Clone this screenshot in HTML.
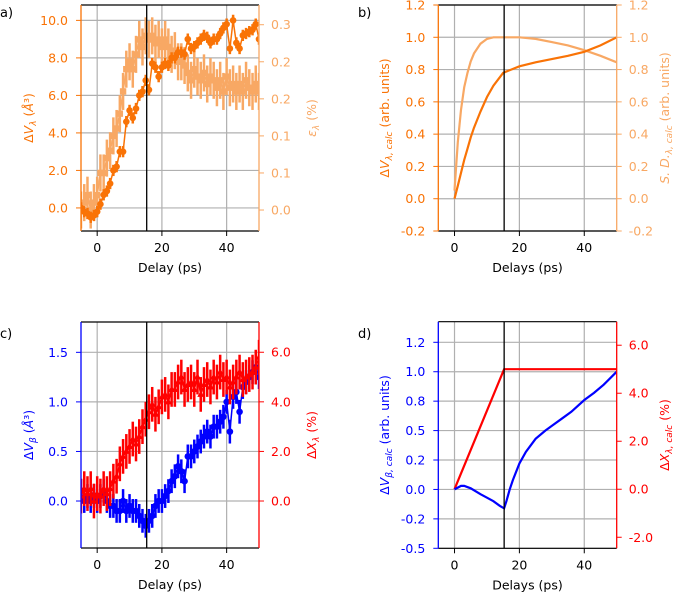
<!DOCTYPE html>
<html><head><meta charset="utf-8">
<style>
html,body{margin:0;padding:0;background:#fff;}
svg{display:block;font-family:"DejaVu Sans","Liberation Sans",sans-serif;}
</style></head>
<body>
<svg id="fig" width="675" height="594" viewBox="0 0 675 594" xmlns="http://www.w3.org/2000/svg"></svg>
<script>
// ---- data ----
const tData = [-5,-4,-3,-2,-1,0,1,2,3,4,5,6,7,8,9,10,11,12,13,14,15,16,17,18,19,20,21,22,23,24,25,26,27,28,29,30,31,32,33,34,35,36,37,38,39,40,41,42,43,44,45,46,47,48,49,50];
const dVLambda = [0.0,-0.2,-0.3,-0.5,-0.4,-0.2,0.2,0.7,0.9,1.3,2.0,2.2,3.0,3.0,4.6,5.2,4.8,5.3,6.0,6.2,6.8,6.3,7.7,7.5,7.0,7.5,7.7,7.6,8.0,8.0,8.3,8.3,8.2,9.0,8.5,8.6,8.8,9.0,9.2,9.1,8.8,9.0,9.0,9.3,9.6,9.8,8.5,10.0,8.8,8.5,9.2,9.3,9.4,9.5,9.8,9.0];
const dVLambdaErr = [0.3,0.3,0.3,0.3,0.3,0.3,0.3,0.3,0.3,0.3,0.3,0.3,0.3,0.3,0.3,0.3,0.3,0.3,0.3,0.3,0.3,0.3,0.3,0.3,0.3,0.3,0.3,0.3,0.3,0.3,0.3,0.3,0.3,0.3,0.3,0.3,0.3,0.3,0.3,0.3,0.3,0.3,0.3,0.3,0.3,0.3,0.3,0.3,0.3,0.3,0.3,0.3,0.3,0.3,0.3,0.3];
const epsLambda = [0.0,0.01,0.02,0.0,0.01,0.02,0.05,0.05,0.07,0.08,0.1,0.11,0.13,0.16,0.19,0.2,0.19,0.21,0.23,0.22,0.235,0.23,0.235,0.225,0.23,0.22,0.23,0.22,0.21,0.215,0.2,0.2,0.195,0.185,0.175,0.19,0.18,0.175,0.185,0.17,0.18,0.175,0.165,0.175,0.16,0.18,0.165,0.17,0.16,0.17,0.16,0.175,0.165,0.16,0.17,0.16];
const epsLambdaErr = [0.025,0.025,0.025,0.025,0.025,0.025,0.025,0.025,0.025,0.025,0.025,0.025,0.025,0.025,0.025,0.025,0.025,0.025,0.025,0.025,0.025,0.025,0.025,0.025,0.025,0.025,0.025,0.025,0.025,0.025,0.025,0.025,0.025,0.025,0.025,0.025,0.025,0.025,0.025,0.025,0.025,0.025,0.025,0.025,0.025,0.025,0.025,0.025,0.025,0.025,0.025,0.025,0.025,0.025,0.025,0.025];
const dVBeta = [0.1,0.0,0.05,0.0,0.05,0.0,0.05,0.1,0.0,-0.05,-0.05,-0.1,-0.1,0.0,-0.1,-0.05,-0.1,-0.1,-0.15,-0.2,-0.25,-0.2,-0.15,-0.05,0.0,0.0,0.05,0.1,0.2,0.25,0.35,0.3,0.2,0.45,0.45,0.5,0.55,0.6,0.65,0.7,0.65,0.75,0.75,0.8,0.85,1.0,0.7,1.05,1.1,0.9,1.15,1.2,1.25,1.3,1.35,1.25];
const dVBetaErr = 0.12;
const dXLambda = [0.2,0.5,0.3,0.5,0.0,0.3,0.2,0.5,0.3,0.5,0.8,1.0,1.5,1.8,2.0,2.2,2.5,2.3,2.6,3.0,3.3,3.6,3.9,3.5,3.8,4.2,4.3,4.0,4.5,4.5,4.8,5.0,4.5,4.7,4.8,4.5,5.0,4.3,4.7,4.9,4.6,5.0,4.8,5.2,4.9,5.0,4.6,4.8,5.0,5.2,4.9,5.0,5.1,5.2,5.4,5.8];
const dXLambdaErr = 0.7;
const tCalcB = [0,1,2,3,4,5,6,8,10,12,15,20,25,30,35,40,45,50];
const dVCalc = [0,0.08,0.16,0.24,0.31,0.38,0.44,0.54,0.63,0.70,0.78,0.82,0.845,0.865,0.885,0.91,0.95,1.0];
const sdCalc = [0.05,0.35,0.55,0.69,0.78,0.85,0.9,0.96,0.99,1.0,1.0,1.0,0.99,0.97,0.95,0.92,0.885,0.845];
const tCalcD = [0,2,3,5,8,10,12,14,15.3,16,17,18,20,22,25,28,30,33,36,40,43,46,50];
const dVBetaCalc = [0,0.03,0.03,0.01,-0.04,-0.07,-0.1,-0.14,-0.16,-0.1,0.0,0.08,0.22,0.32,0.43,0.5,0.54,0.6,0.66,0.76,0.82,0.89,1.0];
const tXCalc = [0,15.3,50];
const dXCalc = [0,5,5];
const xTicks = [0,20,40];
const tStep = 15.3;

const NS="http://www.w3.org/2000/svg";
const fig=document.getElementById('fig');
function el(tag,attrs,parent){const e=document.createElementNS(NS,tag);for(const k in attrs)e.setAttribute(k,attrs[k]);(parent||fig).appendChild(e);return e;}
const GRID="#b0b0b0";
const OR="#f97306", LOR="#f8a864", BL="#0000ff", RD="#ff0000";
const FS=12.5;

function makePanel(p){
  const g=el('g',{});
  
  
  const X=v=>p.x0+(v+5)/55*(p.x1-p.x0);
  const YL=v=>p.y1-(v-p.lmin)/(p.lmax-p.lmin)*(p.y1-p.y0);
  const YR=v=>p.y1-(v-p.rmin)/(p.rmax-p.rmin)*(p.y1-p.y0);
  const cp='clip-'+p.name;
  const cpe=el('clipPath',{id:cp},g); el('rect',{x:p.x0,y:p.y0,width:p.x1-p.x0,height:p.y1-p.y0},cpe);
  xTicks.forEach(t=>{const l=el('line',{x1:X(t),x2:X(t),y1:p.y0,y2:p.y1,stroke:GRID,'stroke-width':1.2},g);
    });
  p.lticks.forEach(t=>{const l=el('line',{x1:p.x0,x2:p.x1,y1:YL(t),y2:YL(t),stroke:GRID,'stroke-width':1.2},g);
    });
  const dg=el('g',{'clip-path':'url(#'+cp+')'},g);
  p.draw(dg,X,YL,YR);
  const vl=el('line',{x1:X(tStep),x2:X(tStep),y1:p.y0,y2:p.y1,stroke:'#000','stroke-width':1.3},g);
  
  el('line',{x1:p.x0,x2:p.x1,y1:p.y0,y2:p.y0,stroke:'#000','stroke-width':1.2},g);
  el('line',{x1:p.x0,x2:p.x1,y1:p.y1,y2:p.y1,stroke:'#000','stroke-width':1.2},g);
  el('line',{x1:p.x0,x2:p.x0,y1:p.y0,y2:p.y1,stroke:p.lc,'stroke-width':1.3},g);
  el('line',{x1:p.x1,x2:p.x1,y1:p.y0,y2:p.y1,stroke:p.rc,'stroke-width':1.3},g);
  xTicks.forEach(t=>{el('line',{x1:X(t),x2:X(t),y1:p.y1,y2:p.y1+5,stroke:'#000'},g);
    const tx=el('text',{x:X(t),y:p.y1+21,'font-size':FS,'text-anchor':'middle',fill:'#000'},g);tx.textContent=t;
    });
  p.lticks.forEach((t,i)=>{el('line',{x1:p.x0-5,x2:p.x0,y1:YL(t),y2:YL(t),stroke:p.lc},g);
    const tx=el('text',{x:p.x0-13,y:YL(t)+4.5,'font-size':FS,'text-anchor':'end',fill:p.lc},g);tx.textContent=p.llab[i];
    });
  p.rticks.forEach((t,i)=>{el('line',{x1:p.x1,x2:p.x1+5,y1:YR(t),y2:YR(t),stroke:p.rc},g);
    const tx=el('text',{x:p.x1+12,y:YR(t)+4.5,'font-size':FS,'text-anchor':'start',fill:p.rc},g);tx.textContent=p.rlab[i];
    });
  const xt=el('text',{x:(p.x0+p.x1)/2,y:p.y1+41,'font-size':FS,'text-anchor':'middle',fill:'#000'},g);xt.textContent=p.xlabel;
  
  const cy=(p.y0+p.y1)/2;
  const lt=el('text',{x:0,y:0,'font-size':FS,'text-anchor':'middle',fill:p.lc,transform:`translate(${p.ltx},${cy}) rotate(-90)`},g);
  lt.innerHTML=p.ltitle;
  const rt=el('text',{x:0,y:0,'font-size':FS,'text-anchor':'middle',fill:p.rc,transform:`translate(${p.rtx},${cy}) rotate(-90)`},g);
  rt.innerHTML=p.rtitle;
  const pl=el('text',{x:p.lx,y:p.ly,'font-size':13,fill:'#000'},g);pl.textContent=p.letter;
  
}
function pathOf(xs,ys,X,Y){return xs.map((t,i)=>(i?'L':'M')+X(t).toFixed(1)+','+Y(ys[i]).toFixed(1)).join('');}
function errSeries(g,xs,ys,err,X,Y,color,marker,name){
  const sg=el('g',{},g);
  el('path',{d:pathOf(xs,ys,X,Y),fill:'none',stroke:color,'stroke-width':1.5},sg);
  xs.forEach((t,i)=>{const e=Array.isArray(err)?err[i]:err;
    const b=el('line',{x1:X(t),x2:X(t),y1:Y(ys[i]-e),y2:Y(ys[i]+e),stroke:color,'stroke-width':2.5},sg);
    
    let m;const cx=X(t),cy=Y(ys[i]);
    if(marker==='o') m=el('circle',{cx:cx,cy:cy,r:3.3,fill:color},sg);
    else if(marker==='s') m=el('rect',{x:cx-3.2,y:cy-3.2,width:6.4,height:6.4,fill:color},sg);
    else m=el('path',{d:`M${cx},${cy-3.8}L${cx+3.5},${cy+2.5}L${cx-3.5},${cy+2.5}Z`,fill:color},sg);
    });
}
function lineSeries(g,xs,ys,X,Y,color,name){
  const l=el('path',{d:pathOf(xs,ys,X,Y),fill:'none',stroke:color,'stroke-width':2.2},g);
  
}
const sub=(s)=>`<tspan dy="3" font-size="9" font-style="italic">${s}</tspan><tspan dy="-3">`;
const end='</tspan>';

makePanel({name:'panel-a',letter:'a)',lx:0,ly:17,x0:81,x1:259,y0:5,y1:231,lmin:-1.23,lmax:10.82,rmin:-0.0283,rmax:0.2766,
  lc:OR,rc:LOR,lticks:[0,2,4,6,8,10],llab:['0.0','2.0','4.0','6.0','8.0','10.0'],
  rticks:[0,0.05,0.1,0.15,0.2,0.25],rlab:['0.0','0.1','0.1','0.2','0.2','0.3'],
  xlabel:'Delay (ps)',ltx:33,rtx:316,ltitle:'Δ<tspan font-style="italic">V</tspan>'+sub('λ')+' (<tspan font-style="italic">Å</tspan>³)'+end,rtitle:'<tspan font-style="italic">ε</tspan>'+sub('λ')+' (%)'+end,
  draw:(g,X,YL,YR)=>{errSeries(g,tData,epsLambda,epsLambdaErr,X,YR,LOR,'s','series-strain');
    errSeries(g,tData,dVLambda,dVLambdaErr,X,YL,OR,'o','series-delta-v-lambda');}});
makePanel({name:'panel-b',letter:'b)',lx:358,ly:17,x0:438.3,x1:616.7,y0:5,y1:231,lmin:-0.2,lmax:1.2,rmin:-0.2,rmax:1.2,
  lc:OR,rc:LOR,lticks:[-0.2,0,0.2,0.4,0.6,0.8,1.0,1.2],llab:['-0.2','0.0','0.2','0.4','0.6','0.8','1.0','1.2'],
  rticks:[-0.2,0,0.2,0.4,0.6,0.8,1.0,1.2],rlab:['-0.2','0.0','0.2','0.4','0.6','0.8','1.0','1.2'],
  xlabel:'Delays (ps)',ltx:389,rtx:669,ltitle:'Δ<tspan font-style="italic">V</tspan>'+sub('λ, calc')+' (arb. units)'+end,rtitle:'<tspan font-style="italic">S. D.</tspan>'+sub('λ, calc')+' (arb. units)'+end,
  draw:(g,X,YL,YR)=>{lineSeries(g,tCalcB,sdCalc,X,YR,LOR,'series-sd-calc');lineSeries(g,tCalcB,dVCalc,X,YL,OR,'series-dv-calc');}});
makePanel({name:'panel-c',letter:'c)',lx:0,ly:338,x0:81,x1:259,y0:322,y1:548,lmin:-0.474,lmax:1.806,rmin:-1.895,rmax:7.22,
  lc:BL,rc:RD,lticks:[0,0.5,1.0,1.5],llab:['0.0','0.5','1.0','1.5'],rticks:[0,2,4,6],rlab:['0.0','2.0','4.0','6.0'],
  xlabel:'Delay (ps)',ltx:33,rtx:316,ltitle:'Δ<tspan font-style="italic">V</tspan>'+sub('β')+' (<tspan font-style="italic">Å</tspan>³)'+end,rtitle:'Δ<tspan font-style="italic">X</tspan>'+sub('λ')+' (%)'+end,
  draw:(g,X,YL,YR)=>{errSeries(g,tData,dVBeta,dVBetaErr,X,YL,BL,'o','series-delta-v-beta');
    errSeries(g,tData,dXLambda,dXLambdaErr,X,YR,RD,'^','series-delta-x-lambda');}});
makePanel({name:'panel-d',letter:'d)',lx:358,ly:338,x0:438.3,x1:616.7,y0:321.7,y1:548.3,lmin:-0.5,lmax:1.425,rmin:-2.46,rmax:6.98,
  lc:BL,rc:RD,lticks:[-0.5,-0.25,0,0.25,0.5,0.75,1.0,1.25],llab:['-0.5','-0.2','0.0','0.2','0.5','0.8','1.0','1.2'],
  rticks:[-2,0,2,4,6],rlab:['-2.0','0.0','2.0','4.0','6.0'],
  xlabel:'Delays (ps)',ltx:389,rtx:669,ltitle:'Δ<tspan font-style="italic">V</tspan>'+sub('β, calc')+' (arb. units)'+end,rtitle:'Δ<tspan font-style="italic">X</tspan>'+sub('λ, calc')+' (%)'+end,
  draw:(g,X,YL,YR)=>{lineSeries(g,tXCalc,dXCalc,X,YR,RD,'series-dx-calc');lineSeries(g,tCalcD,dVBetaCalc,X,YL,BL,'series-dv-beta-calc');}});
</script>
</body></html>
